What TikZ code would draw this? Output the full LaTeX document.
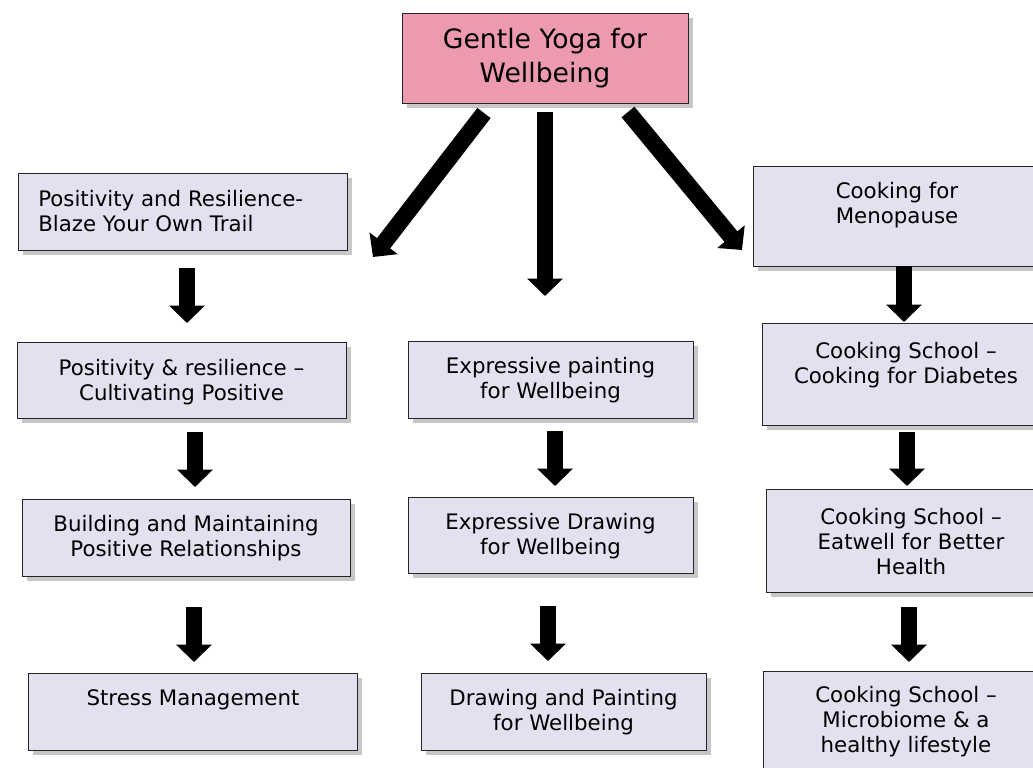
\documentclass[tikz,border=0pt]{standalone}
\usepackage{fontspec}
\setmainfont{DejaVu Sans}
\usetikzlibrary{arrows.meta,shadows}
\definecolor{pinkbox}{RGB}{238,154,174}
\definecolor{lavbox}{RGB}{227,224,240}
\tikzset{
  box/.style={draw=black!85, line width=0.8pt, fill=lavbox, inner sep=0pt,
    drop shadow={shadow xshift=3pt, shadow yshift=-3pt, opacity=0.4, fill=black!55}},
  topbox/.style={box, fill=pinkbox},
  txt/.style={font=\fontsize{16}{18.75}\selectfont, align=center, inner sep=0pt},
  toptxt/.style={font=\fontsize{20}{25.5}\selectfont, align=center, inner sep=0pt},
  bigarrow/.style={line width=12.5pt, -{Triangle[length=13pt,width=26pt]}},
}
\newcommand\mkbox[6]{%
  \node[#6, anchor=north west, minimum width={(#4-#2)*0.75pt}, minimum height={(#5-#3)*0.75pt}] (#1) at (#2,#3) {};}
\begin{document}
\begin{tikzpicture}[x=0.75pt, y=-0.75pt]
\useasboundingbox (0,0) rectangle (1033,768);
\clip (0,0) rectangle (1033,768);
\fill[white] (0,0) rectangle (1033,768);

% boxes
\mkbox{top}{402}{13}{688}{103}{topbox}
\mkbox{L1}{18}{173}{347}{250}{box}
\mkbox{L2}{17}{342}{346}{418}{box}
\mkbox{L3}{22}{499}{350}{576}{box}
\mkbox{L4}{28}{673}{357}{750}{box}
\mkbox{M1}{408}{341}{693}{418}{box}
\mkbox{M2}{408}{497}{693}{573}{box}
\mkbox{M3}{421}{673}{706}{750}{box}
\mkbox{R1}{753}{166}{1041}{266}{box}
\mkbox{R2}{762}{323}{1050}{425}{box}
\mkbox{R3}{766}{489}{1056}{592}{box}
\mkbox{R4}{763}{671}{1049}{790}{box}

% texts
\node[toptxt] (topt) at (545,58) {Gentle Yoga for\\Wellbeing};
\node[txt, align=left, anchor=west] (L1t) at (38,211) {Positivity and Resilience-\\Blaze Your Own Trail};
\node[txt] (L2t) at (181.5,382) {Positivity \& resilience –\\Cultivating Positive};
\node[txt] (L3t) at (186,538) {Building and Maintaining\\Positive Relationships};
\node[txt] (L4t) at (193,700) {Stress Management};
\node[txt] (M1t) at (550.5,380) {Expressive painting\\for Wellbeing};
\node[txt] (M2t) at (550.5,536) {Expressive Drawing\\for Wellbeing};
\node[txt] (M3t) at (563.5,712) {Drawing and Painting\\for Wellbeing};
\node[txt] (R1t) at (897,205) {Cooking for\\Menopause};
\node[txt] (R2t) at (906,365) {Cooking School –\\Cooking for Diabetes};
\node[txt] (R3t) at (911,542) {Cooking School –\\Eatwell for Better\\Health};
\node[txt] (R4t) at (906,722) {Cooking School –\\Microbiome \& a\\healthy lifestyle};

% arrow end points
\coordinate (dL0) at (484,113); \coordinate (dL1) at (373,257);
\coordinate (dM0) at (545,112); \coordinate (dM1) at (545,296);
\coordinate (dR0) at (628,112); \coordinate (dR1) at (742,250);
\coordinate (a10) at (187,268); \coordinate (a11) at (187,323);
\coordinate (a20) at (195,432); \coordinate (a21) at (195,487);
\coordinate (a30) at (194,607); \coordinate (a31) at (194,662);
\coordinate (b10) at (555,431); \coordinate (b11) at (555,486);
\coordinate (b20) at (548,606); \coordinate (b21) at (548,661);
\coordinate (c10) at (904,266); \coordinate (c11) at (904,322);
\coordinate (c20) at (907,432); \coordinate (c21) at (907,486);
\coordinate (c30) at (909,607); \coordinate (c31) at (909,662);

\draw[bigarrow] (dL0) -- (dL1);
\draw[bigarrow] (dM0) -- (dM1);
\draw[bigarrow] (dR0) -- (dR1);
\draw[bigarrow] (a10) -- (a11);
\draw[bigarrow] (a20) -- (a21);
\draw[bigarrow] (a30) -- (a31);
\draw[bigarrow] (b10) -- (b11);
\draw[bigarrow] (b20) -- (b21);
\draw[bigarrow] (c10) -- (c11);
\draw[bigarrow] (c20) -- (c21);
\draw[bigarrow] (c30) -- (c31);
\end{tikzpicture}
\end{document}
